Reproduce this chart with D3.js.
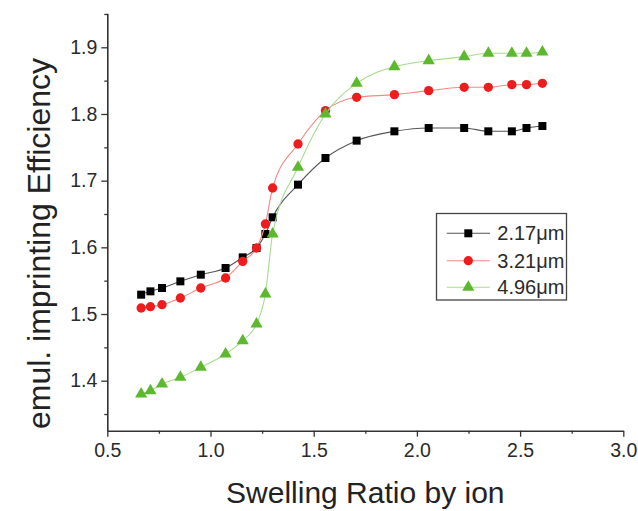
<!DOCTYPE html>
<html><head><meta charset="utf-8">
<script src="https://cdn.jsdelivr.net/npm/d3@7/dist/d3.min.js"></script>
<style>body{margin:0;background:#fff;}svg{display:block;font-family:"Liberation Sans",Arial,sans-serif;}</style>
</head><body>
<svg id="c" width="638" height="511"></svg>
<script>
const swelling = [0.664,0.709,0.765,0.854,0.953,1.073,1.156,1.223,1.266,1.301,1.424,1.557,1.708,1.891,2.057,2.229,2.346,2.460,2.531,2.608];
const eff217 = [1.529,1.534,1.539,1.549,1.559,1.569,1.585,1.599,1.620,1.645,1.694,1.734,1.760,1.774,1.779,1.779,1.774,1.774,1.779,1.782];
const eff321 = [1.509,1.511,1.514,1.524,1.539,1.554,1.579,1.599,1.635,1.689,1.755,1.805,1.825,1.829,1.835,1.840,1.840,1.844,1.844,1.846];
const eff496 = [1.380,1.385,1.395,1.405,1.420,1.440,1.460,1.485,1.530,1.620,1.720,1.800,1.846,1.871,1.880,1.886,1.891,1.891,1.891,1.893];
const seriesNames = ["2.17\u03bcm","3.21\u03bcm","4.96\u03bcm"];
const xMajorTicks = [0.5,1.0,1.5,2.0,2.5,3.0];
const xMinorTicks = [0.75,1.25,1.75,2.25,2.75];
const yMajorTicks = [1.4,1.5,1.6,1.7,1.8,1.9];
const yMinorTicks = [1.35,1.45,1.55,1.65,1.75,1.85,1.95];
const xTitle = "Swelling Ratio by ion";
const yTitle = "emul. imprinting Efficiency";

const svg = d3.select("#c");
const x = d3.scaleLinear().domain([0.5,3.0]).range([107.3,623.3]);
const y = d3.scaleLinear().domain([1.325,1.951]).range([430.7,13.3]);

const axisColor = "#333";
// x axis
const gx = svg.append("g").attr("transform",`translate(0,${y.range()[0]})`);
gx.call(d3.axisBottom(x).tickValues(xMajorTicks).tickSize(6).tickSizeOuter(0).tickPadding(6).tickFormat(d3.format(".1f")));
gx.append("g").call(d3.axisBottom(x).tickValues(xMinorTicks).tickSize(3).tickFormat(""));
// y axis
const gy = svg.append("g").attr("transform",`translate(${x.range()[0]},0)`);
gy.call(d3.axisLeft(y).tickValues(yMajorTicks).tickSize(6).tickSizeOuter(0).tickPadding(4).tickFormat(d3.format(".1f")));
gy.append("g").call(d3.axisLeft(y).tickValues(yMinorTicks).tickSize(3).tickFormat(""));
svg.selectAll(".domain").attr("stroke",axisColor).attr("stroke-width",1.6);
svg.selectAll(".tick line").attr("stroke",axisColor).attr("stroke-width",1.3);
svg.selectAll(".tick text").attr("fill","#2a2a2a").style("font-size","19.5px");
gx.selectAll("g g .domain").remove();
gy.selectAll("g g .domain").remove();

svg.append("text").attr("x",(x.range()[0]+x.range()[1])/2).attr("y",503)
  .attr("text-anchor","middle").style("font-size","30px").attr("fill","#222").text(xTitle);
svg.append("text").attr("transform","translate(50,243.5) rotate(-90)")
  .attr("text-anchor","middle").style("font-size","32px").attr("fill","#222").text(yTitle);

const series = [
  {name:seriesNames[0], vals:eff217, line:"#555", fill:"#000", shape:d3.symbolSquare, size:64},
  {name:seriesNames[1], vals:eff321, line:"#f08a80", fill:"#ee1c1c", shape:d3.symbolCircle, size:68},
  {name:seriesNames[2], vals:eff496, line:"#a6dc8e", fill:"#5cb82e", shape:d3.symbolTriangle, size:64}
];
const line = d3.line().x(d=>x(d[0])).y(d=>y(d[1])).curve(d3.curveMonotoneX);
series.forEach(s=>{
  const pts = swelling.map((v,i)=>[v,s.vals[i]]);
  svg.append("path").attr("d",line(pts)).attr("fill","none").attr("stroke",s.line).attr("stroke-width",1.1);
  svg.append("g").selectAll("path").data(pts).join("path")
    .attr("transform",d=>`translate(${x(d[0])},${y(d[1])})`)
    .attr("d",d3.symbol().type(s.shape).size(s.size)).attr("fill",s.fill);
});

// legend
const lg = svg.append("g");
lg.append("rect").attr("x",436.5).attr("y",213.5).attr("width",130).attr("height",86.5)
  .attr("fill","#fff").attr("stroke","#444").attr("stroke-width",1.3);
const rowY = [233.3,260.7,287.3];
series.forEach((s,i)=>{
  lg.append("line").attr("x1",446.7).attr("x2",490).attr("y1",rowY[i]).attr("y2",rowY[i]).attr("stroke",s.line).attr("stroke-width",1.1);
  lg.append("path").attr("transform",`translate(468.3,${rowY[i]})`).attr("d",d3.symbol().type(s.shape).size(s.size)).attr("fill",s.fill);
  lg.append("text").attr("x",497.3).attr("y",rowY[i]+7).style("font-size","20px").attr("fill","#2a2a2a").text(s.name);
});
</script>
</body></html>
